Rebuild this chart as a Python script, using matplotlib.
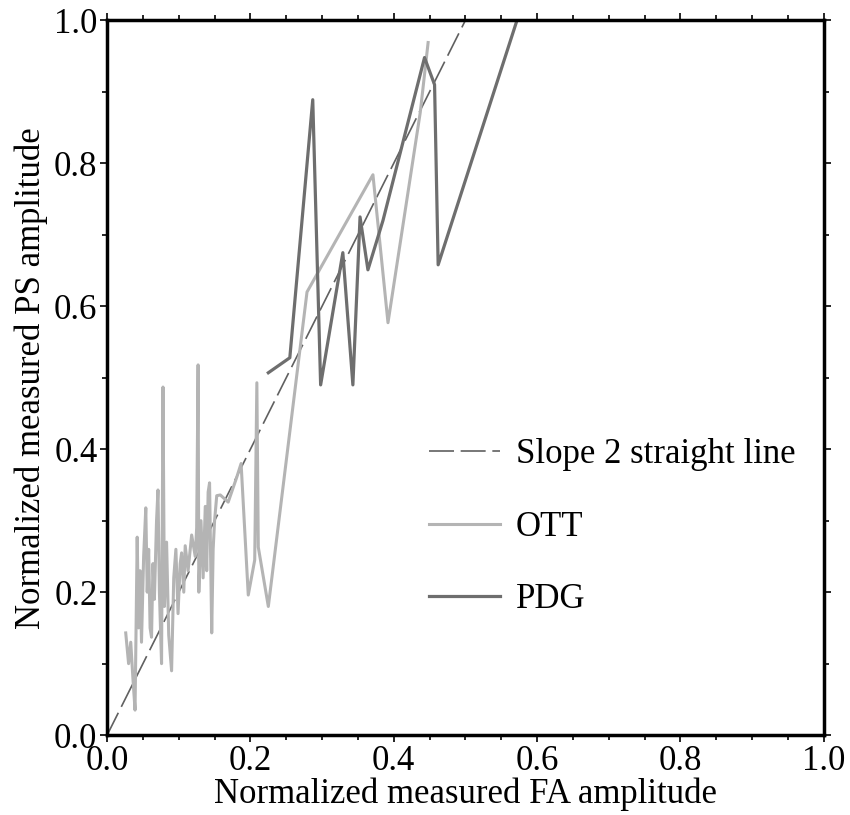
import matplotlib
matplotlib.use("Agg")
import matplotlib.pyplot as plt
from matplotlib.ticker import MultipleLocator

# reference line (slope 2)
slope_x = [0.0, 0.5]
slope_y = [0.0, 1.0]

# OTT station
ott_x = [0.026, 0.030, 0.033, 0.036, 0.039, 0.042, 0.044, 0.046, 0.048, 0.051,
         0.054, 0.056, 0.058, 0.060, 0.062, 0.064, 0.066, 0.069, 0.071, 0.073,
         0.076, 0.078, 0.080, 0.083, 0.086, 0.090, 0.093, 0.096, 0.099, 0.102,
         0.104, 0.107, 0.109, 0.113, 0.118, 0.123, 0.125, 0.127, 0.128, 0.131,
         0.134, 0.137, 0.139, 0.141, 0.143, 0.146, 0.148, 0.150, 0.153, 0.158,
         0.169, 0.181, 0.187, 0.197, 0.206, 0.209, 0.211, 0.225, 0.279, 0.371,
         0.392, 0.437, 0.448]
ott_y = [0.143, 0.100, 0.130, 0.080, 0.035, 0.277, 0.150, 0.230, 0.130, 0.250,
         0.318, 0.200, 0.260, 0.150, 0.137, 0.240, 0.190, 0.300, 0.343, 0.200,
         0.100, 0.487, 0.180, 0.270, 0.140, 0.090, 0.220, 0.260, 0.170, 0.240,
         0.255, 0.200, 0.265, 0.230, 0.280, 0.250, 0.290, 0.518, 0.200, 0.300,
         0.220, 0.320, 0.230, 0.340, 0.353, 0.143, 0.260, 0.300, 0.335, 0.336,
         0.326, 0.361, 0.380, 0.196, 0.245, 0.493, 0.263, 0.180, 0.620, 0.784,
         0.577, 0.871, 0.969]

# PDG station
pdg_x = [0.225, 0.255, 0.287, 0.298, 0.329, 0.343, 0.353, 0.364, 0.385, 0.443,
         0.457, 0.462, 0.572]
pdg_y = [0.507, 0.528, 0.889, 0.490, 0.675, 0.490, 0.725, 0.651, 0.720, 0.948,
         0.910, 0.658, 1.000]

plt.rcParams['font.family'] = ['Liberation Serif', 'DejaVu Serif']

fig = plt.figure(figsize=(8.5, 8.15), dpi=100)
ax = fig.add_axes([0.126, 0.098, 0.843, 0.877])

ax.plot(slope_x, slope_y, color='#606060', lw=1.2, dashes=(15, 4),
        label='Slope 2 straight line')
ax.plot(ott_x, ott_y, color='#b4b4b4', lw=2.2, label='OTT')
ax.plot(pdg_x, pdg_y, color='#6e6e6e', lw=2.3, label='PDG')

ax.set_xlim(0, 1)
ax.set_ylim(0, 1)
ax.xaxis.set_major_locator(MultipleLocator(0.2))
ax.xaxis.set_minor_locator(MultipleLocator(0.05))
ax.yaxis.set_major_locator(MultipleLocator(0.2))
ax.yaxis.set_minor_locator(MultipleLocator(0.1))
ax.xaxis.set_major_formatter(lambda v, p: f'{v:.1f}')
ax.yaxis.set_major_formatter(lambda v, p: f'{v:.1f}')
ax.tick_params(which='both', direction='out', top=True, right=True,
               labelsize=25, width=1.2, pad=2)
ax.tick_params(which='major', length=5)
ax.tick_params(which='minor', length=3.5)
for s in ax.spines.values():
    s.set_linewidth(2.5)

ax.set_xlabel('Normalized measured FA amplitude', fontsize=25, labelpad=0)
ax.set_ylabel('Normalized measured PS amplitude', fontsize=25, labelpad=4)

ax.legend(loc='upper left', bbox_to_anchor=(0.406, 0.459), frameon=False,
          fontsize=25, handlelength=2.05, handletextpad=0.45, labelspacing=1.14)

fig.savefig('out.png', dpi=100)
